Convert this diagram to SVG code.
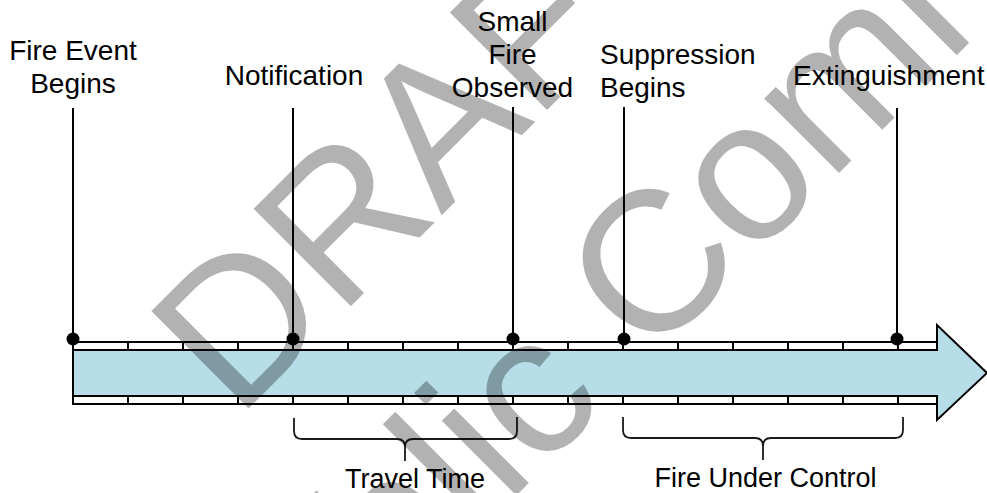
<svg xmlns="http://www.w3.org/2000/svg" width="987" height="493" viewBox="0 0 987 493">
<style>
  .lbl { font-family: "Liberation Sans", Arial, sans-serif; font-size: 28px; fill: #000; }
  .lbl2 { font-family: "Liberation Sans", Arial, sans-serif; font-size: 27px; fill: #000; text-anchor: middle; }
  .mid { text-anchor: middle; }
  .ln { stroke: #000; stroke-width: 2; fill: none; }
  .strip { fill: #fff; stroke: #000; stroke-width: 2; }
  .brace { stroke: #1a1a1a; stroke-width: 1.8; fill: none; }
  .wm { font-family: "Liberation Sans", Arial, sans-serif; font-size: 200px; fill: #000; fill-opacity: 0.3; }
</style>
<rect width="987" height="493" fill="#fff"/>

<g id="timeline-arrow">
  <polygon points="73,342 937,342 937,325 987,373 937,420 937,404 73,404" fill="#b7dde8" stroke="#000" stroke-width="2" stroke-linejoin="miter"/>
  <rect class="strip" x="73" y="342" width="864" height="8"/>
  <rect class="strip" x="73" y="396" width="864" height="8"/>
  <path class="ln" d="M128,342V350M183,342V350M238,342V350M293,342V350M348,342V350M403,342V350M458,342V350M513,342V350M568,342V350M623,342V350M678,342V350M733,342V350M788,342V350M843,342V350M898,342V350"/>
  <path class="ln" d="M128,396V404M183,396V404M238,396V404M293,396V404M348,396V404M403,396V404M458,396V404M513,396V404M568,396V404M623,396V404M678,396V404M733,396V404M788,396V404M843,396V404M898,396V404"/>
</g>

<g id="connectors">
  <path class="ln" d="M73,108V339M293,108V339M513,107V339M624,107V339M897,108V339"/>
  <circle cx="73" cy="339" r="6.5" fill="#000"/>
  <circle cx="293" cy="339" r="6.5" fill="#000"/>
  <circle cx="513" cy="339" r="6.5" fill="#000"/>
  <circle cx="624" cy="339" r="6.5" fill="#000"/>
  <circle cx="897" cy="339" r="6.5" fill="#000"/>
</g>

<g id="event-fire-begins">
  <text class="lbl mid" x="73" y="60">Fire Event</text>
  <text class="lbl mid" x="73" y="93">Begins</text>
</g>
<g id="event-notification">
  <text class="lbl mid" x="294" y="85">Notification</text>
</g>
<g id="event-small-fire">
  <text class="lbl mid" x="512.5" y="31">Small</text>
  <text class="lbl mid" x="512.5" y="64">Fire</text>
  <text class="lbl mid" x="512.5" y="97">Observed</text>
</g>
<g id="event-suppression">
  <text class="lbl" x="600" y="64">Suppression</text>
  <text class="lbl" x="600" y="97">Begins</text>
</g>
<g id="event-extinguishment">
  <text class="lbl" x="793" y="85">Extinguishment</text>
</g>

<g id="brace-travel-time">
  <path class="brace" d="M294,418 L294,431 Q294,439 302,439 L397,439 Q405,439 405,447 L405,461 M405,447 Q405,439 413,439 L509,439 Q517,439 517,431 L517,417"/>
  <text class="lbl2" x="415" y="488">Travel Time</text>
</g>
<g id="brace-fire-under-control">
  <path class="brace" d="M623,417 L623,430 Q623,438 631,438 L755,438 Q763,438 763,446 L763,460 M763,446 Q763,438 771,438 L895,438 Q903,438 903,430 L903,417"/>
  <text class="lbl2" x="765.5" y="487">Fire Under Control</text>
</g>

<g id="watermark">
  <text class="wm" transform="translate(237,420) rotate(-45)">DRAFT</text>
  <text class="wm" transform="translate(224,788) rotate(-45)">Public Comment</text>
</g>
</svg>
